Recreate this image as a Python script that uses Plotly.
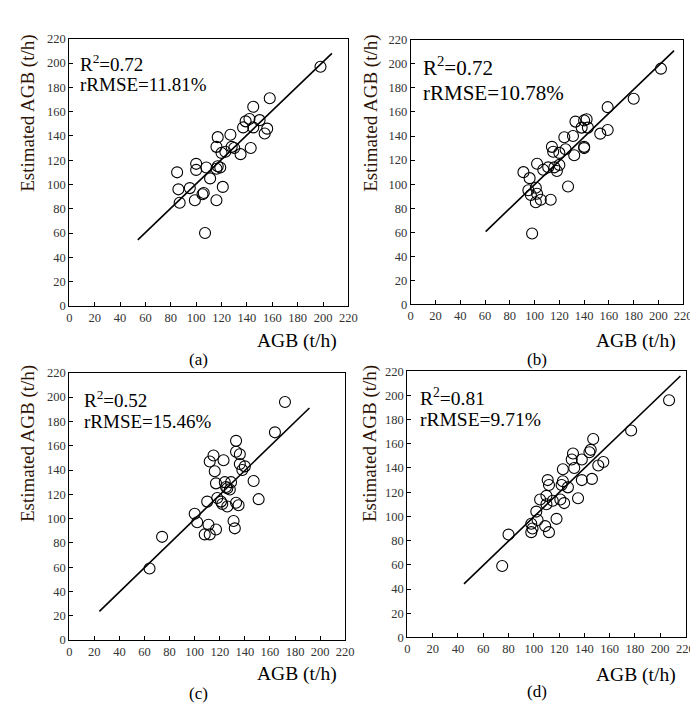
import plotly.graph_objects as go

a_x = [198, 158, 145, 142, 139, 150, 137, 145, 156, 154, 127, 117, 116, 128, 130, 143, 120, 123,
       135, 100, 100, 108, 117, 116, 119, 85, 111, 95, 121, 86, 105, 106, 99, 116, 87, 107]
a_y = [197, 171, 164, 154, 152, 153, 147, 147, 146, 142, 141, 139, 131, 131, 130, 130, 126, 127,
       125, 117, 112, 114, 115, 113, 114, 110, 105, 97, 98, 96, 92, 93, 87, 87, 85, 60]

b_x = [202, 180, 159, 142, 140, 133, 143, 138, 159, 153, 131, 124, 114, 140, 140, 125, 115, 120,
       132, 102, 120, 111, 116, 107, 118, 91, 96, 101, 127, 95, 102, 97, 105, 113, 101, 98]
b_y = [196, 171, 164, 154, 153, 152, 147, 147, 145, 142, 140, 139, 131, 131, 130, 129, 127, 126,
       124, 117, 116, 114, 114, 112, 111, 110, 105, 97, 98, 95, 92, 91, 87, 87, 85, 59]

c_x = [172, 164, 133, 133, 136, 115, 112, 123, 136, 116, 140, 138, 147, 117, 124, 129, 128, 125,
       126, 151, 110, 118, 121, 122, 133, 135, 126, 100, 102, 111, 131, 132, 117, 108, 112, 74, 64]
c_y = [196, 171, 164, 155, 153, 152, 147, 148, 145, 139, 143, 140, 131, 129, 130, 130, 124, 126,
       125, 116, 114, 117, 114, 112, 113, 111, 110, 104, 97, 95, 98, 92, 91, 87, 87, 85, 59]

d_x = [207, 177, 147, 144, 145, 131, 130, 138, 155, 151, 132, 123, 111, 138, 146, 123, 112, 122,
       127, 105, 110, 115, 121, 135, 110, 124, 102, 103, 118, 98, 109, 99, 98, 112, 80, 75]
d_y = [196, 171, 164, 153, 155, 152, 147, 147, 145, 142, 140, 139, 130, 130, 131, 129, 126, 126,
       124, 114, 117, 113, 114, 115, 110, 111, 104, 97, 98, 94, 92, 90, 87, 87, 85, 59]

# fitted line end points
a_line_x, a_line_y = [54, 207], [54.4, 208]
b_line_x, b_line_y = [60.5, 212.6], [60.6, 211]
c_line_x, c_line_y = [24, 191.5], [23.7, 191]
d_line_x, d_line_y = [44.8, 216], [44.3, 216]

r2_text = ["R<sup>2</sup>=0.72", "R<sup>2</sup>=0.72", "R<sup>2</sup>=0.52", "R<sup>2</sup>=0.81"]
rmse_text = ["rRMSE=11.81%", "rRMSE=10.78%", "rRMSE=15.46%", "rRMSE=9.71%"]
captions = ["(a)", "(b)", "(c)", "(d)"]
ticks = list(range(0, 221, 20))

W, H = 698, 710
SERIF = "Liberation Serif"

panels = [(a_x, a_y, a_line_x, a_line_y),
          (b_x, b_y, b_line_x, b_line_y),
          (c_x, c_y, c_line_x, c_line_y),
          (d_x, d_y, d_line_x, d_line_y)]

# plot-area pixel boxes: left, right, top, bottom
boxes = [(59.3, 343.3, 24.3, 296.7),
         (406.7, 684, 25.3, 295.3),
         (59.3, 340, 365, 637.7),
         (403.3, 686.3, 363.3, 635)]

fig = go.Figure()
layout = {}
for i, ((px, py, lx, ly), (l, r, t, b)) in enumerate(zip(panels, boxes)):
    n = "" if i == 0 else str(i + 1)
    fig.add_trace(go.Scatter(
        x=px, y=py, mode="markers", xaxis="x" + n, yaxis="y" + n,
        marker=dict(symbol="circle-open", size=11, color="black", line=dict(width=1.1)),
        showlegend=False, hoverinfo="x+y"))
    fig.add_trace(go.Scatter(
        x=lx, y=ly, mode="lines", xaxis="x" + n, yaxis="y" + n,
        line=dict(color="black", width=1.6), showlegend=False, hoverinfo="skip"))
    common = dict(range=[0, 220], tickvals=ticks, showgrid=False, zeroline=False,
                  showline=True, linecolor="black", linewidth=1, mirror=True,
                  ticks="inside", ticklen=4, tickcolor="black", tickwidth=1,
                  tickfont=dict(family=SERIF, size=12.5, color="#333333"))
    layout["xaxis" + n] = dict(common, domain=[l / W, r / W], anchor="y" + n)
    layout["yaxis" + n] = dict(common, domain=[1 - b / H, 1 - t / H], anchor="x" + n)

# text positions in pixels: (R2 left, R2 y, rRMSE y, size), ytitle, xtitle, caption
stats_pos = [(68, 49, 71, 19), (417, 53, 80, 21), (72, 392, 415, 19), (414, 390, 413, 19.5)]
ytitle_pos = [(17, 100), (366, 100), (18, 437), (366, 437)]
xtitle_pos = [(291, 333), (636, 333), (291, 672), (636, 673)]
cap_pos = [(191, 351), (535, 351), (191, 692), (535, 690)]

ann = []
for i in range(4):
    sx, sy1, sy2, fs = stats_pos[i]
    ann.append(dict(x=sx / W, y=1 - sy1 / H, text=r2_text[i], xanchor="left", yanchor="middle",
                    font=dict(family=SERIF, size=fs, color="black")))
    ann.append(dict(x=sx / W, y=1 - sy2 / H, text=rmse_text[i], xanchor="left", yanchor="middle",
                    font=dict(family=SERIF, size=fs, color="black")))
    ann.append(dict(x=ytitle_pos[i][0] / W, y=1 - ytitle_pos[i][1] / H, text="Estimated AGB (t/h)",
                    textangle=-90, xanchor="center", yanchor="middle",
                    font=dict(family=SERIF, size=19, color="#2e1405")))
    ann.append(dict(x=xtitle_pos[i][0] / W, y=1 - xtitle_pos[i][1] / H, text="AGB (t/h)",
                    xanchor="center", yanchor="middle",
                    font=dict(family=SERIF, size=19.5, color="black")))
    ann.append(dict(x=cap_pos[i][0] / W, y=1 - cap_pos[i][1] / H, text=captions[i],
                    xanchor="center", yanchor="middle",
                    font=dict(family=SERIF, size=17, color="black")))
for a in ann:
    a.update(xref="paper", yref="paper", showarrow=False)

fig.update_layout(
    width=W, height=H,
    margin=dict(l=0, r=0, t=0, b=0),
    paper_bgcolor="white", plot_bgcolor="white",
    font=dict(family=SERIF),
    annotations=ann,
    **layout
)

fig.write_html("out.html")
